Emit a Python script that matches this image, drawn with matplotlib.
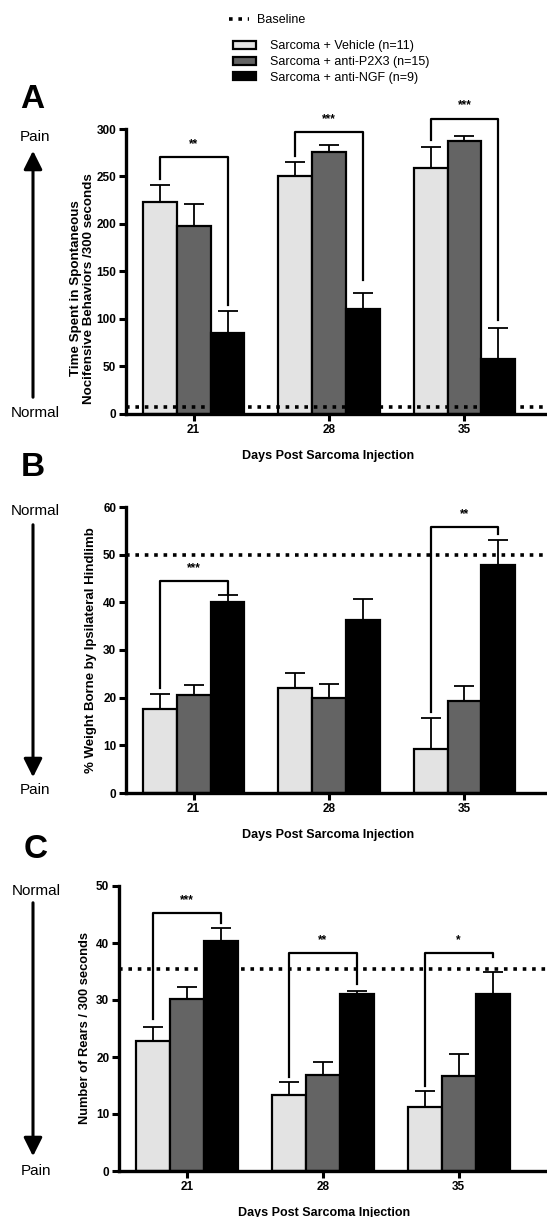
import numpy as np
import matplotlib
matplotlib.use("Agg")
from matplotlib import pyplot as plt
from matplotlib.patches import Patch, FancyArrowPatch
from matplotlib.lines import Line2D

plt.rcParams['font.family'] = ['Liberation Sans', 'DejaVu Sans']

# data
days = ['21', '28', '35']
groups = ['Sarcoma + Vehicle (n=11)', 'Sarcoma + anti-P2X3 (n=15)', 'Sarcoma + anti-NGF (n=9)']
colors = ['#e3e3e3', '#646464', '#000000']

# panel A: time spent in nocifensive behaviors
a_mean = [[223, 251, 259], [198, 276, 287], [85, 110, 58]]
a_top = [[241, 265, 281], [221, 283, 293], [108, 127, 90]]
a_base = 7
# brackets: (day index, height, left leg end, right leg end, stars)
a_brk = [(0, 270, 247, 115, '**'), (1, 297, 272, 141, '***'), (2, 311, 288, 99, '***')]

# panel B: % weight borne
b_mean = [[17.7, 22.0, 9.2], [20.5, 20.0, 19.2], [40.0, 36.3, 47.9]]
b_top = [[20.8, 25.2, 15.7], [22.7, 22.8, 22.5], [41.5, 40.6, 53.0]]
b_base = 50
b_brk = [(0, 44.4, 22, 41.8, '***'), (2, 55.8, 17, 54.3, '**')]

# panel C: number of rears
c_mean = [[22.8, 13.4, 11.2], [30.1, 16.9, 16.6], [40.4, 31.0, 31.0]]
c_top = [[25.3, 15.7, 14.1], [32.3, 19.2, 20.5], [42.6, 31.6, 35.0]]
c_base = 35.5
c_brk = [(0, 45.3, 26.7, 43.5, '***'), (1, 38.2, 16.5, 32.8, '**'), (2, 38.2, 15.0, 37.5, '*')]

W, H = 547, 1217
fig = plt.figure(figsize=(W / 100, H / 100), dpi=100)


def px_rect(left, right, top, bottom):
    return [left / W, 1 - bottom / H, (right - left) / W, (bottom - top) / H]


def panel(rect, means, tops, base, brks, ymax, ystep, ylabel, xr, ylab_xy, ylab_size):
    ax = fig.add_axes(rect)
    x = np.arange(len(days))
    bw = 0.25
    for i in range(3):
        xs = x + (i - 1) * bw
        m = np.array(means[i])
        up = np.array(tops[i]) - m
        ax.bar(xs, m, bw, color=colors[i], edgecolor='black', linewidth=1.6, zorder=2)
        ax.errorbar(xs, m, yerr=[np.zeros_like(up), up], fmt='none', ecolor='black',
                    elinewidth=1.3, capsize=7, capthick=1.3, zorder=1)
    ax.axhline(base, color='black', linestyle=(0, (1, 1.6)), linewidth=2.6, zorder=3)
    for (k, h, l_end, r_end, stars) in brks:
        xl, xrr = k - bw, k + bw
        ax.plot([xl, xl, xrr, xrr], [l_end, h, h, r_end], color='black', lw=1.6,
                clip_on=False, zorder=4)
        ax.text(k, h + ymax * 0.025, stars, ha='center', va='bottom', fontsize=8.5,
                fontweight='bold')
    ax.set_xlim(-0.5, xr)
    ax.set_ylim(0, ymax)
    ax.set_yticks(np.arange(0, ymax + 1e-9, ystep))
    ax.set_xticks(x)
    ax.set_xticklabels(days)
    for s in ['top', 'right']:
        ax.spines[s].set_visible(False)
    for s in ['left', 'bottom']:
        ax.spines[s].set_linewidth(2.4)
    ax.tick_params(axis='both', width=2.2, length=5, labelsize=8.5, pad=2)
    for t in ax.get_xticklabels() + ax.get_yticklabels():
        t.set_fontweight('bold')
    ax.set_ylabel(ylabel, fontsize=ylab_size, fontweight='bold', linespacing=1.05)
    ax.yaxis.set_label_coords(*ylab_xy)
    ax.set_xlabel('Days Post Sarcoma Injection', fontsize=9, fontweight='bold')
    ax.xaxis.set_label_coords(0.48, -0.125)
    return ax


axA = panel(px_rect(126, 547, 129, 414), a_mean, a_top, a_base, a_brk, 300, 50,
            'Time Spent in Spontaneous\nNocifensive Behaviors /300 seconds', 2.61,
            (-0.074, 0.44), 9.6)
axB = panel(px_rect(126, 547, 507, 793), b_mean, b_top, b_base, b_brk, 60, 10,
            '% Weight Borne by Ipsilateral Hindlimb', 2.61, (-0.07, 0.5), 9.5)
axC = panel(px_rect(119, 547, 886, 1171), c_mean, c_top, c_base, c_brk, 50, 10,
            'Number of Rears / 300 seconds', 2.65, (-0.065, 0.5), 9.3)

# panel letters
for letter, (lx, ly) in zip('ABC', [(32, 100), (33, 467), (36, 850)]):
    fig.text(lx / W, 1 - ly / H, letter, fontsize=24, fontweight='bold', ha='center', va='center')


# side arrows
def side(x, y_from, y_to, t_from, t_to, ty_from, ty_to):
    fig.text(x / W, 1 - ty_from / H, t_from, fontsize=11, ha='center', va='center')
    fig.text(x / W, 1 - ty_to / H, t_to, fontsize=11, ha='center', va='center')
    fig.add_artist(FancyArrowPatch(
        (33 / W, 1 - y_from / H), (33 / W, 1 - y_to / H), transform=fig.transFigure,
        arrowstyle='-|>,head_length=8,head_width=4', mutation_scale=1.4, lw=2.2,
        color='black'))


side(35, 400, 148, 'Normal', 'Pain', 413, 137)
side(35, 522, 780, 'Normal', 'Pain', 511, 790)
side(36, 900, 1159, 'Normal', 'Pain', 891, 1171)

# legends
fig.legend(handles=[Line2D([], [], color='black', linestyle=(0, (1, 1.6)), lw=2.6)],
           labels=['Baseline'], loc='upper left', bbox_to_anchor=(218 / W, 1 - 3 / H),
           frameon=False, fontsize=9, handlelength=1.6, handletextpad=0.6)
handles = [Patch(facecolor=c, edgecolor='black', linewidth=1.6) for c in colors]
fig.legend(handles=handles, labels=groups, loc='upper left', bbox_to_anchor=(222 / W, 1 - 29 / H),
           frameon=False, fontsize=9, handlelength=1.8, handleheight=0.6,
           handletextpad=1.1, labelspacing=0.3)

fig.savefig('out.png', dpi=100)
